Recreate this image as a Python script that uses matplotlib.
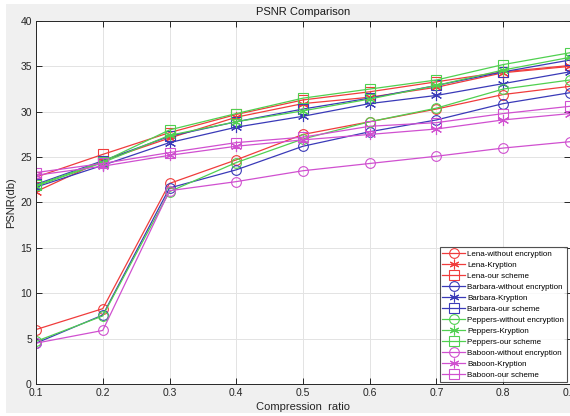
import matplotlib
matplotlib.use("Agg")
import matplotlib.pyplot as plt
from matplotlib.patches import Rectangle

# dados
ratio = [0.1, 0.2, 0.3, 0.4, 0.5, 0.6, 0.7, 0.8, 0.9]

lena_plain = [6.0, 8.3, 22.1, 24.7, 27.5, 28.9, 30.3, 31.9, 32.8]
lena_kryp = [21.2, 24.6, 27.1, 29.4, 30.9, 31.6, 32.7, 34.3, 35.0]
lena_ours = [22.8, 25.3, 27.7, 29.7, 31.3, 32.2, 33.3, 34.4, 35.1]

barbara_plain = [4.5, 7.6, 21.6, 23.6, 26.2, 27.8, 29.1, 30.9, 32.1]
barbara_kryp = [21.7, 24.1, 26.6, 28.3, 29.5, 30.9, 31.8, 33.1, 34.4]
barbara_ours = [22.0, 24.6, 27.3, 28.9, 30.3, 31.5, 32.9, 34.4, 35.7]

peppers_plain = [4.7, 7.5, 21.2, 24.4, 27.0, 28.9, 30.4, 32.5, 33.5]
peppers_kryp = [21.8, 24.4, 27.4, 28.9, 30.1, 31.4, 32.9, 34.6, 36.0]
peppers_ours = [21.9, 24.5, 28.0, 29.8, 31.5, 32.5, 33.5, 35.2, 36.5]

baboon_plain = [4.5, 5.9, 21.3, 22.3, 23.5, 24.3, 25.1, 26.0, 26.7]
baboon_kryp = [23.0, 24.0, 25.2, 26.2, 26.9, 27.5, 28.1, 29.1, 29.8]
baboon_ours = [23.3, 24.3, 25.5, 26.6, 27.2, 28.4, 28.8, 29.8, 30.6]

images = ["Lena", "Barbara", "Peppers", "Baboon"]
schemes = ["without encryption", "Kryption", "our scheme"]
series = [
    [lena_plain, lena_kryp, lena_ours],
    [barbara_plain, barbara_kryp, barbara_ours],
    [peppers_plain, peppers_kryp, peppers_ours],
    [baboon_plain, baboon_kryp, baboon_ours],
]
cores = ["#f03c3c", "#3a3ab8", "#50d050", "#d050d0"]
marcadores = ["o", (6, 2, 0), "s"]  # circulo, asterisco, quadrado

plt.rcParams["font.family"] = ["Liberation Sans", "DejaVu Sans"]

fig = plt.figure(figsize=(5.70, 4.16), dpi=100, facecolor="white")
# fundo cinzento estilo MATLAB
fig.patches.append(Rectangle((6 / 570, 3 / 416), 564 / 570, 409 / 416,
                             transform=fig.transFigure, facecolor="#f0f0f0",
                             edgecolor="none", zorder=-10))

ax = fig.add_axes([36 / 570, 1 - 384 / 416, 534 / 570, 363 / 416])
ax.set_facecolor("white")

for i in range(len(images)):
    for j in range(len(schemes)):
        ms = 7 if j != 1 else 8
        ax.plot(ratio, series[i][j], color=cores[i], marker=marcadores[j],
                markerfacecolor="none", markersize=ms, markeredgewidth=0.8,
                linewidth=0.9, label=images[i] + "-" + schemes[j])

ax.set_xlim(0.1, 0.9)
ax.set_ylim(0, 40)
ax.set_xticks(ratio)
ax.set_xticklabels(["0.1", "0.2", "0.3", "0.4", "0.5", "0.6", "0.7", "0.8", "0.9"])
ax.set_yticks([0, 5, 10, 15, 20, 25, 30, 35, 40])
ax.grid(True, color="#e3e3e3", linewidth=0.7)
ax.set_axisbelow(True)
ax.tick_params(direction="in", length=4, width=0.7, colors="#262626",
               labelsize=7.5, top=True, right=True, pad=3)
for s in ax.spines.values():
    s.set_color("#262626")
    s.set_linewidth(0.7)

ax.set_title("PSNR Comparison", fontsize=8, color="#1a1a1a", pad=4)
ax.set_xlabel("Compression  ratio", fontsize=8, color="#262626", labelpad=3)
ax.set_ylabel("PSNR(db)", fontsize=8, color="#262626", labelpad=3)

leg = ax.legend(loc="lower right", bbox_to_anchor=((567 - 36) / 534, 2 / 363),
                bbox_transform=ax.transAxes, fontsize=5.8, frameon=True,
                fancybox=False, edgecolor="#262626", handlelength=2.8,
                handletextpad=0.3, borderpad=0.35, labelspacing=0.42,
                borderaxespad=0.0)
leg.get_frame().set_linewidth(0.8)
for lh in leg.get_lines():
    lh.set_markersize(7)

fig.savefig("out.png", dpi=100, facecolor=fig.get_facecolor())
